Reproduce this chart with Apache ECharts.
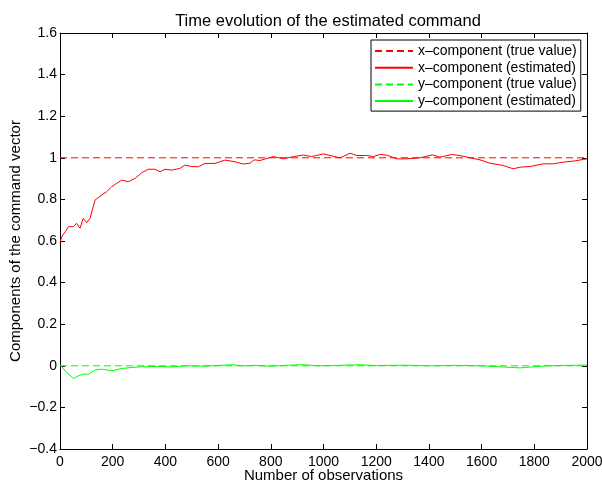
<!DOCTYPE html>
<html>
<head>
<meta charset="utf-8">
<script src="https://cdn.jsdelivr.net/npm/echarts@6/dist/echarts.min.js"></script>
<style>html,body{margin:0;padding:0;background:#fff}#c{width:602px;height:481px}</style>
</head>
<body>
<div id="c"></div>
<script>
var xTicks = [0, 200, 400, 600, 800, 1000, 1200, 1400, 1600, 1800, 2000];
var yTicks = [-0.4, -0.2, 0, 0.2, 0.4, 0.6, 0.8, 1, 1.2, 1.4, 1.6];
var legendNames = ['x\u2013component (true value)', 'x\u2013component (estimated)', 'y\u2013component (true value)', 'y\u2013component (estimated)'];
var trueX = 1;
var trueY = 0;
var estXobs = [0,6,20,32,51,63,76,88,101,114,125,133,158,177,196,215,234,259,285,310,335,360,380,398,424,455,474,500,525,550,588,626,664,696,721,737,759,810,848,886,924,955,1000,1025,1063,1101,1126,1164,1189,1214,1240,1278,1316,1366,1414,1442,1486,1518,1556,1594,1632,1682,1720,1746,1784,1834,1872,1910,1948,1986,2000];
var estXval = [0.59,0.62,0.645,0.669,0.669,0.685,0.661,0.709,0.688,0.709,0.76,0.797,0.821,0.837,0.861,0.877,0.893,0.885,0.901,0.928,0.945,0.945,0.933,0.945,0.941,0.949,0.965,0.958,0.957,0.973,0.973,0.989,0.981,0.970,0.974,0.99,0.987,1.006,0.995,1.006,1.013,1.006,1.019,1.011,1.0,1.022,1.011,1.011,1.006,1.016,1.013,0.995,0.995,1.0,1.014,1.003,1.016,1.011,1.0,0.990,0.974,0.963,0.947,0.955,0.958,0.971,0.971,0.979,0.984,0.992,0.995];
var estYobs = [0,6,25,51,60,70,88,107,133,158,196,234,272,310,360,424,487,550,614,652,690,740,803,866,918,980,1050,1139,1200,1300,1400,1500,1600,1670,1746,1796,1850,1920,2000];
var estYval = [0.005,0,-0.032,-0.061,-0.055,-0.048,-0.040,-0.040,-0.021,-0.016,-0.024,-0.013,-0.008,-0.005,-0.003,-0.005,0,-0.002,0.003,0.005,0,0.002,-0.002,0.003,0.005,0.0,0.002,0.005,0.001,0.003,0.0,0.002,0.0,-0.005,-0.01,-0.005,0.0,0.002,0.003];

function pairs(xs, ys) { return xs.map(function (x, i) { return [x, ys[i]]; }); }
var font = 'Liberation Sans, Arial, Helvetica, sans-serif';
var xMin = xTicks[0], xMax = xTicks[xTicks.length - 1];
var yMin = yTicks[0], yMax = yTicks[yTicks.length - 1];
function fmtY(v) { var s = String(Math.round(v * 10) / 10); return s.replace('-', '\u2212'); }
function fmtX(v) { return String(Math.round(v)); }

var chart = echarts.init(document.getElementById('c'), null, { renderer: 'canvas' });
var tickCommon = { show: true, inside: true, length: 5, lineStyle: { color: '#000', width: 1 } };
chart.setOption({
  animation: false,
  backgroundColor: '#fff',
  textStyle: { fontFamily: font },
  title: {
    text: 'Time evolution of the estimated command',
    left: 323, top: 8, textAlign: 'center',
    textStyle: { fontSize: 16.5, fontWeight: 'normal', color: '#000', fontFamily: font }
  },
  grid: { left: 60, right: 15, top: 33, bottom: 32, containLabel: false, outerBoundsMode: 'none' },
  legend: {
    orient: 'vertical', left: 371, top: 40,
    backgroundColor: '#fff', borderColor: '#000', borderWidth: 1, borderRadius: 0,
    padding: [4, 4, 3, 3], itemGap: 2.7, itemWidth: 38, itemHeight: 14,
    itemStyle: { opacity: 0, borderWidth: 0 },
    textStyle: { fontSize: 14, color: '#000', fontFamily: font },
    data: legendNames
  },
  xAxis: [{
    type: 'value', min: xMin, max: xMax, interval: 200,
    name: 'Number of observations', nameLocation: 'middle', nameGap: 19, nameMoveOverlap: false,
    nameTextStyle: { fontSize: 15, color: '#000', fontFamily: font },
    axisLine: { show: true, onZero: false, lineStyle: { color: '#000', width: 1 } },
    axisTick: tickCommon,
    axisLabel: { fontSize: 14, color: '#000', margin: 6, fontFamily: font, formatter: fmtX, hideOverlap: false },
    splitLine: { show: false }
  }, {
    type: 'value', position: 'top', min: xMin, max: xMax, interval: 200,
    axisLine: { show: true, onZero: false, lineStyle: { color: '#000', width: 1 } },
    axisTick: tickCommon, axisLabel: { show: false }, splitLine: { show: false }
  }],
  yAxis: [{
    type: 'value', min: yMin, max: yMax, interval: 0.2,
    name: 'Components of the command vector', nameLocation: 'middle', nameGap: 37, nameMoveOverlap: false,
    nameTextStyle: { fontSize: 15, color: '#000', fontFamily: font },
    axisLine: { show: true, onZero: false, lineStyle: { color: '#000', width: 1 } },
    axisTick: tickCommon,
    axisLabel: { fontSize: 14, color: '#000', margin: 3, fontFamily: font, formatter: fmtY },
    splitLine: { show: false }
  }, {
    type: 'value', position: 'right', min: yMin, max: yMax, interval: 0.2,
    axisLine: { show: true, onZero: false, lineStyle: { color: '#000', width: 1 } },
    axisTick: tickCommon, axisLabel: { show: false }, splitLine: { show: false }
  }],
  series: [
    { name: legendNames[0], type: 'line', symbol: 'none', data: [[xMin, trueX], [xMax, trueX]],
      lineStyle: { color: '#ff0000', width: 1, type: [7, 4] }, itemStyle: { color: '#ff0000' } },
    { name: legendNames[1], type: 'line', symbol: 'none', data: pairs(estXobs, estXval),
      lineStyle: { color: '#ff0000', width: 1 }, itemStyle: { color: '#ff0000' } },
    { name: legendNames[2], type: 'line', symbol: 'none', data: [[xMin, trueY], [xMax, trueY]],
      lineStyle: { color: '#00ff00', width: 1, type: [7, 4] }, itemStyle: { color: '#00ff00' } },
    { name: legendNames[3], type: 'line', symbol: 'none', data: pairs(estYobs, estYval),
      lineStyle: { color: '#00ff00', width: 1 }, itemStyle: { color: '#00ff00' } }
  ]
});
</script>
</body>
</html>
